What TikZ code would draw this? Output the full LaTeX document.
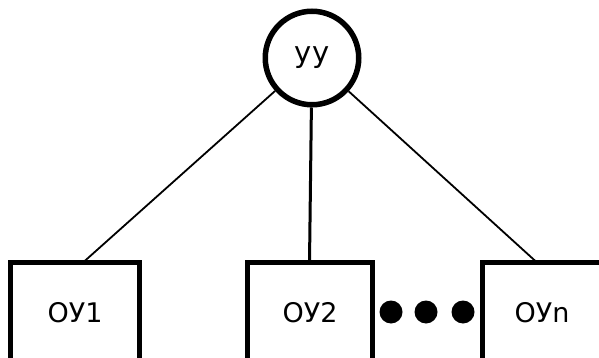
\documentclass[tikz,border=0pt]{standalone}
\usepackage{fontspec}
\setmainfont{DejaVu Sans}
\begin{document}
\begin{tikzpicture}[x=1pt,y=-1pt,
  unitbox/.style={draw=black,line width=5pt,fill=white,rectangle,minimum height=100pt,inner sep=0pt,font=\fontsize{27}{30}\selectfont},
  ctrl/.style={draw=black,line width=5.5pt,fill=white,circle,minimum size=93.5pt,inner sep=0pt,font=\fontsize{29}{30}\selectfont},
  link/.style={draw=black,line width=1.8pt},
  vlink/.style={draw=black,line width=3pt},
  dot/.style={fill=black,circle,minimum size=23pt,inner sep=0pt}]
\useasboundingbox (0,0) rectangle (599,358);
\clip (0,0) rectangle (599,358);
\fill[white] (0,0) rectangle (599,358);
\coordinate (t1) at (83,262.5);
\coordinate (t2) at (309.5,262.5);
\coordinate (t3) at (537,262.5);
\node[ctrl] (c) at (312,58) {уу};
\draw[link] (c) -- (t1);
\draw[vlink] (c) -- (t2);
\draw[link] (c) -- (t3);
\node[unitbox,minimum width=129pt] (b1) at (75,312.5) {ОУ1};
\node[unitbox,minimum width=125pt] (b2) at (310,312.5) {ОУ2};
\node[unitbox,minimum width=118.5pt] (b3) at (541.75,312.5) {};
\node[font=\fontsize{27}{30}\selectfont] (l3) at (542,312.5) {ОУn};
\node[dot] (d1) at (391,312) {};
\node[dot] (d2) at (426,312) {};
\node[dot] (d3) at (463,312) {};
\end{tikzpicture}
\end{document}
